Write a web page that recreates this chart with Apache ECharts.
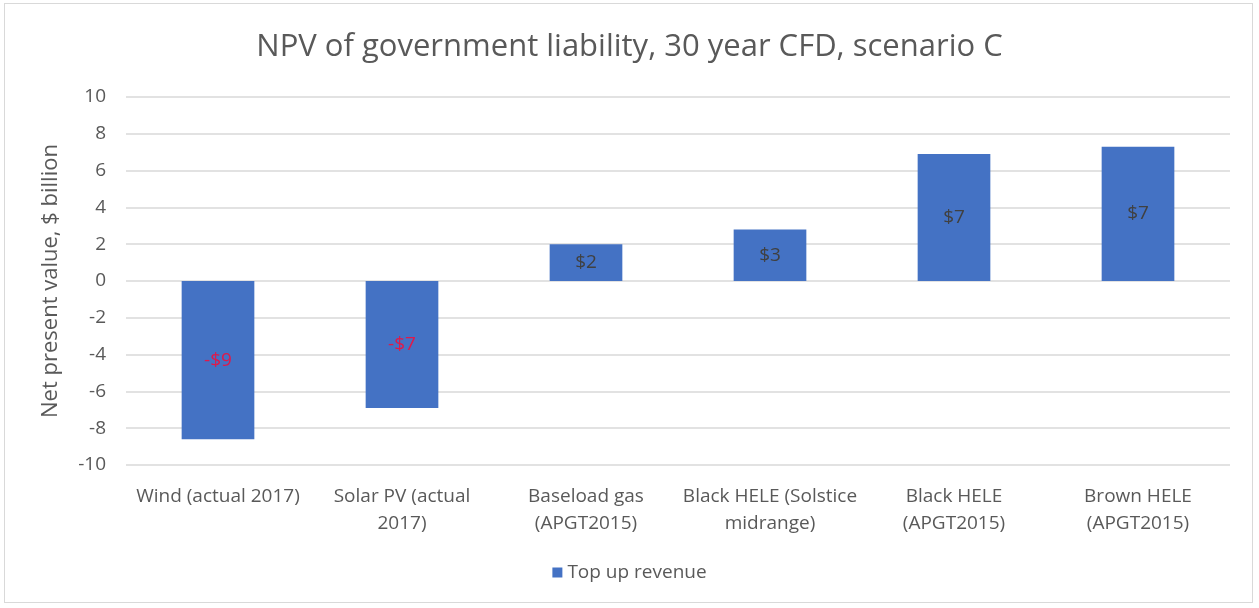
<!DOCTYPE html>
<html>
<head>
<meta charset="utf-8">
<script src="https://cdn.jsdelivr.net/npm/echarts@6/dist/echarts.min.js"></script>
<style>
    html, body { margin: 0; padding: 0; background: #fff; }
    #frame { position: absolute; left: 4px; top: 3px; width: 1249px; height: 600px; border: 1px solid #d9d9d9; box-sizing: border-box; }
    #main { position: absolute; left: 0; top: 0; width: 1259px; height: 608px; }
</style>
</head>
<body>
<div id="frame"></div>
<div id="main"></div>
<script>
const categories = [
    'Wind (actual 2017)',
    'Solar PV (actual\n2017)',
    'Baseload gas\n(APGT2015)',
    'Black HELE (Solstice\nmidrange)',
    'Black HELE\n(APGT2015)',
    'Brown HELE\n(APGT2015)'
]
const topUpRevenue = [-8.6, -6.9, 2.0, 2.8, 6.9, 7.3]
const yTicks = { min: -10, max: 10, interval: 2 }

const fontFamily = '"Open Sans", sans-serif'
const textColor = '#595959'

let myChart = echarts.init(document.getElementById('main'))
myChart.setOption({
    animation: false,
    textStyle: { fontFamily: fontFamily },
    title: {
        text: 'NPV of government liability, 30 year CFD, scenario C',
        left: 'center',
        top: 27,
        textStyle: { fontFamily: fontFamily, fontSize: 31, fontWeight: 'normal', color: textColor }
    },
    legend: {
        bottom: 21,
        left: 'center',
        itemWidth: 10,
        itemHeight: 10,
        itemGap: 8,
        icon: 'rect',
        textStyle: { fontFamily: fontFamily, fontSize: 19, color: textColor }
    },
    grid: { left: 126, right: 29, top: 97, bottom: 143 },
    xAxis: {
        type: 'category',
        data: categories,
        axisLine: { onZero: false, show: false },
        axisTick: { show: false },
        axisLabel: {
            interval: 0,
            margin: 18,
            fontFamily: fontFamily,
            fontSize: 19,
            lineHeight: 27,
            color: textColor
        }
    },
    yAxis: {
        type: 'value',
        min: yTicks.min,
        max: yTicks.max,
        interval: yTicks.interval,
        name: 'Net present value, $ billion',
        nameLocation: 'middle',
        nameGap: 64,
        nameTextStyle: { fontFamily: fontFamily, fontSize: 22, color: textColor },
        axisLine: { show: false },
        axisTick: { show: false },
        axisLabel: { fontFamily: fontFamily, fontSize: 19, color: textColor, margin: 20 },
        splitLine: { lineStyle: { color: '#d9d9d9', width: 1.5 } }
    },
    series: [
        {
            name: 'Top up revenue',
            type: 'bar',
            barWidth: '39.5%',
            data: topUpRevenue.map((v) => ({
                value: v,
                // negative values get red labels
                label: { color: v < 0 ? '#e0194a' : '#404040' }
            })),
            itemStyle: { color: '#4472c4' },
            label: {
                show: true,
                position: 'inside',
                fontFamily: fontFamily,
                fontSize: 19,
                formatter: (p) => {
                    const v = Math.round(p.value)
                    return v < 0 ? '-$' + Math.abs(v) : '$' + v
                }
            }
        }
    ]
})
</script>
</body>
</html>
